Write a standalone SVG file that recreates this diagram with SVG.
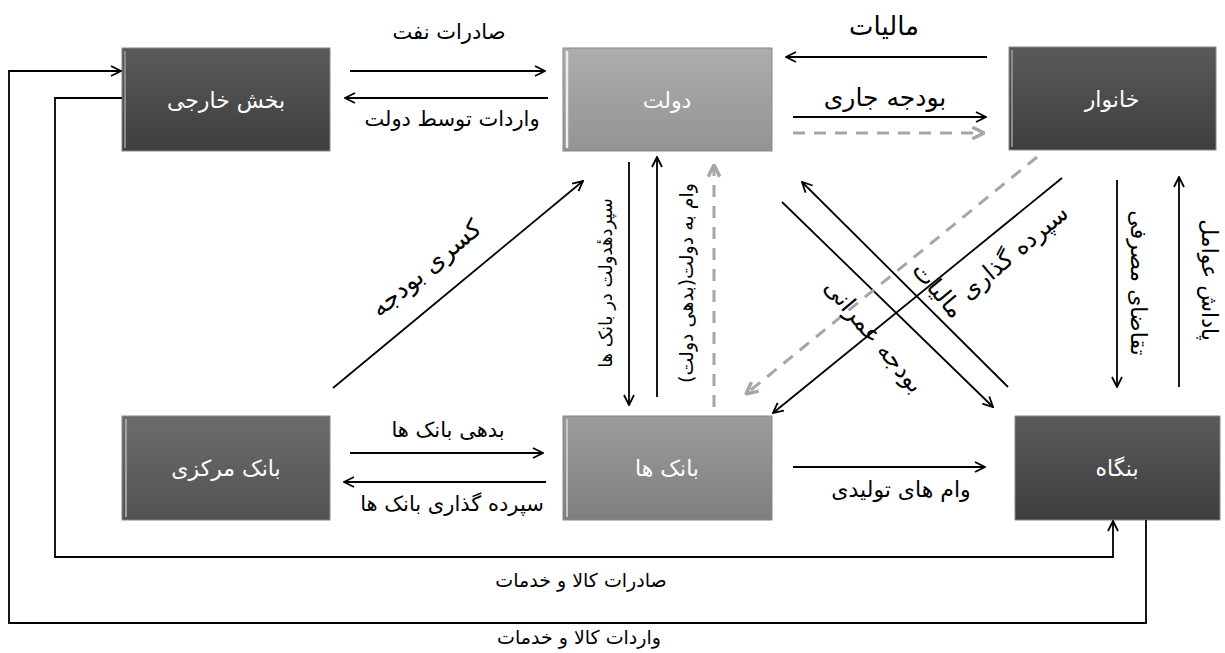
<svg xmlns="http://www.w3.org/2000/svg" width="1225" height="653" viewBox="0 0 1225 653">
<defs>
<style>
.lbl{font-family:"DejaVu Sans",sans-serif;fill:#000;text-anchor:middle;dominant-baseline:central;direction:rtl}
.box{font-family:"DejaVu Sans",sans-serif;fill:#fff;text-anchor:middle;dominant-baseline:central;direction:rtl;font-size:22px}
.c{fill:none;stroke:#000;stroke-width:1.8;marker-end:url(#ah)}
.g{fill:none;stroke:#a6a6a6;stroke-width:3;stroke-dasharray:12 9;marker-end:url(#gh)}
.edge{stroke:#888;stroke-width:1}
</style>
<marker id="ah" viewBox="0 0 12 12" refX="11" refY="6" markerWidth="12" markerHeight="12" orient="auto" markerUnits="userSpaceOnUse">
<path d="M1,1 L11,6 L1,11" fill="none" stroke="#000" stroke-width="1.8"/>
</marker>
<marker id="gh" viewBox="0 0 12 12" refX="11" refY="6" markerWidth="14" markerHeight="14" orient="auto" markerUnits="userSpaceOnUse">
<path d="M1,1 L11,6 L1,11" fill="none" stroke="#a6a6a6" stroke-width="3"/>
</marker>
<linearGradient id="dark" x1="0" y1="0" x2="0" y2="1">
<stop offset="0" stop-color="#5a5a5a"/><stop offset="1" stop-color="#3e3e3e"/>
</linearGradient>
<linearGradient id="mid" x1="0" y1="0" x2="0" y2="1">
<stop offset="0" stop-color="#6c6c6c"/><stop offset="1" stop-color="#525252"/>
</linearGradient>
<linearGradient id="light" x1="0" y1="0" x2="0" y2="1">
<stop offset="0" stop-color="#adadad"/><stop offset="1" stop-color="#939393"/>
</linearGradient>
<linearGradient id="lmid" x1="0" y1="0" x2="0" y2="1">
<stop offset="0" stop-color="#9c9c9c"/><stop offset="1" stop-color="#7e7e7e"/>
</linearGradient>
</defs>
<rect width="1225" height="653" fill="#fff"/>

<g id="node-foreign">
<rect x="122" y="48" width="208" height="103" fill="url(#dark)" class="edge"/>
<line x1="125" y1="51" x2="125" y2="148" stroke="#8a8a8a" stroke-width="2"/>
<text class="box" x="226" y="100">بخش خارجی</text>
</g>
<g id="node-gov">
<rect x="563" y="48" width="209" height="103" fill="url(#light)" class="edge"/>
<line x1="567" y1="51" x2="567" y2="148" stroke="#eeeeee" stroke-width="2.5"/>
<text class="box" x="667" y="100">دولت</text>
</g>
<g id="node-household">
<rect x="1009" y="47" width="207" height="103" fill="url(#dark)" class="edge"/>
<line x1="1012" y1="50" x2="1012" y2="147" stroke="#8a8a8a" stroke-width="2"/>
<text class="box" x="1112" y="99">خانوار</text>
</g>
<g id="node-central-bank">
<rect x="122" y="416" width="208" height="104" fill="url(#mid)" class="edge"/>
<line x1="126" y1="419" x2="126" y2="517" stroke="#a0a0a0" stroke-width="2"/>
<text class="box" x="226" y="468">بانک مرکزی</text>
</g>
<g id="node-banks">
<rect x="563" y="416" width="209" height="104" fill="url(#lmid)" class="edge"/>
<line x1="567" y1="419" x2="567" y2="517" stroke="#c8c8c8" stroke-width="2"/>
<text class="box" x="667" y="468">بانک ها</text>
</g>
<g id="node-firm">
<rect x="1015" y="416" width="205" height="104" fill="url(#dark)" class="edge"/>
<text class="box" x="1117" y="468">بنگاه</text>
</g>

<g id="connectors">
<path class="c" d="M350,71 H545"/>
<path class="c" d="M548,98 H345"/>
<path class="c" d="M987,57 H786"/>
<path class="c" d="M793,117 H986"/>
<path class="g" d="M793,133 H984"/>
<path class="c" d="M629,162 V405"/>
<path class="c" d="M657,397 V157"/>
<path class="g" d="M714,407 V165"/>
<path class="c" d="M333,388 L583,181"/>
<path class="c" d="M1008,387 L802,182"/>
<path class="c" d="M782,202 L993,407"/>
<path class="c" d="M1062,178 L773,413"/>
<path class="g" d="M1037,157 L746,394"/>
<path class="c" d="M1117,180 V387"/>
<path class="c" d="M1179,387 V177"/>
<path class="c" d="M350,453 H543"/>
<path class="c" d="M546,482 H344"/>
<path class="c" d="M793,467 H985"/>
<path class="c" d="M122,98 H55 V557 H1113 V521"/>
<path class="c" d="M1146,520 V623 H9 V71 H121"/>
</g>

<g id="labels">
<text class="lbl" x="449" y="32" font-size="21">صادرات نفت</text>
<text class="lbl" x="452" y="119" font-size="21">واردات توسط دولت</text>
<text class="lbl" x="884" y="26" font-size="26">مالیات</text>
<text class="lbl" x="885" y="97" font-size="25">بودجه جاری</text>
<text class="lbl" font-size="25" transform="translate(426,268) rotate(-40)">کسری بودجه</text>
<text class="lbl" font-size="18" transform="translate(605,283) rotate(-90)">سپردهٔدولت در بانک ها</text>
<text class="lbl" font-size="19" transform="translate(686,283) rotate(-90)">وام به دولت(بدهی دولت)</text>
<text class="lbl" font-size="24" transform="translate(1014,252) rotate(-40)">سپرده گذاری</text>
<text class="lbl" font-size="24" transform="translate(938,290) rotate(50)">مالیات</text>
<text class="lbl" font-size="24" transform="translate(874,336) rotate(50)">بودجه عمرانی</text>
<text class="lbl" font-size="22" transform="translate(1138,283) rotate(90)">تقاضای مصرفی</text>
<text class="lbl" font-size="22" transform="translate(1209,280) rotate(90)">پاداش عوامل</text>
<text class="lbl" x="448" y="430" font-size="21">بدهی بانک ها</text>
<text class="lbl" x="452" y="504" font-size="21">سپرده گذاری بانک ها</text>
<text class="lbl" x="901" y="489" font-size="22">وام های تولیدی</text>
<text class="lbl" x="581" y="580" font-size="19">صادرات کالا و خدمات</text>
<text class="lbl" x="579" y="637" font-size="19">واردات کالا و خدمات</text>
</g>
</svg>
